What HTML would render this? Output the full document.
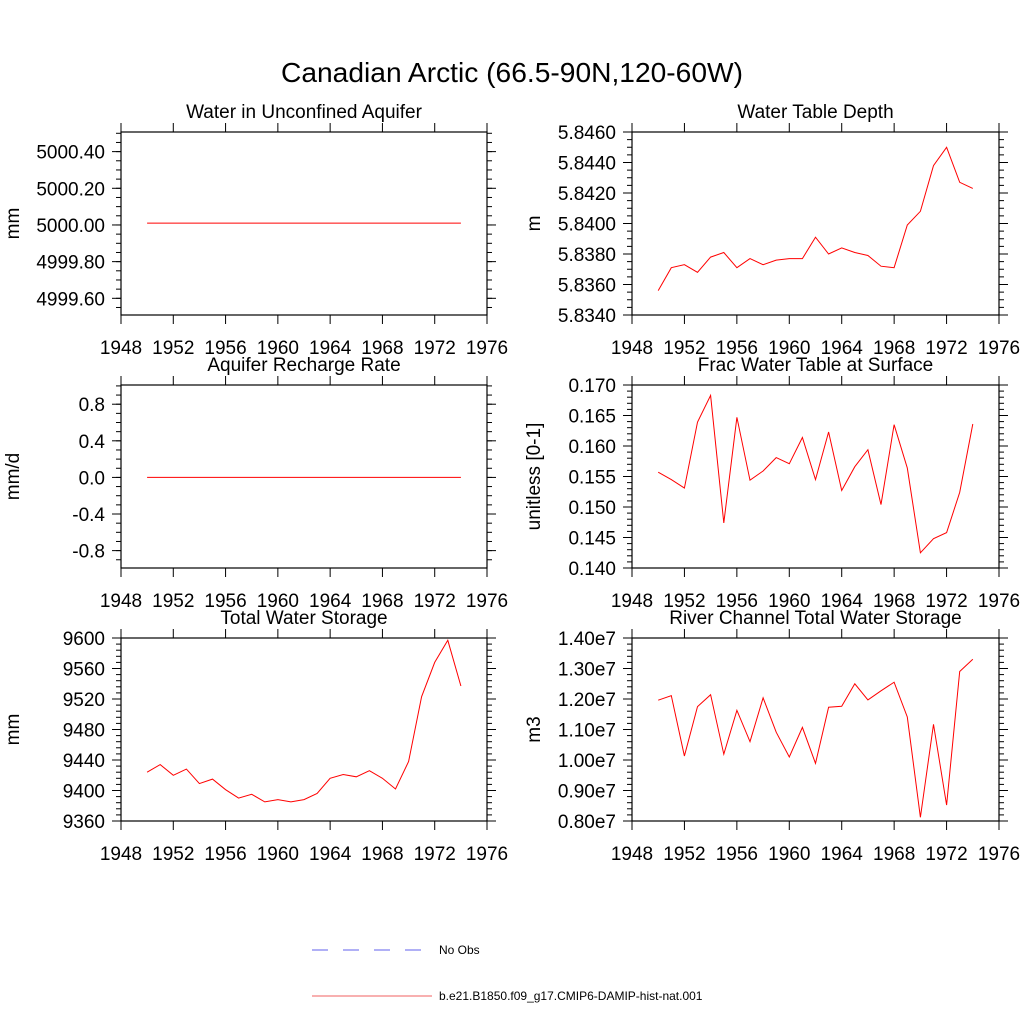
<!DOCTYPE html>
<html><head><meta charset="utf-8"><style>
body{margin:0;background:#fff}
svg{display:block;font-family:"Liberation Sans",Arial,sans-serif}
</style></head><body>
<svg id="fig" width="1024" height="1024" viewBox="0 0 1024 1024">
<text x="512" y="82" font-size="28" text-anchor="middle" textLength="462" lengthAdjust="spacingAndGlyphs">Canadian Arctic (66.5-90N,120-60W)</text>
<g>
<line x1="312" y1="950" x2="435" y2="950" stroke="#6060ee" stroke-width="1" stroke-dasharray="16,15"/>
<text x="439" y="954" font-size="12">No Obs</text>
<line x1="312" y1="996" x2="432" y2="996" stroke="#f06060" stroke-width="1"/>
<text x="439" y="1000" font-size="12">b.e21.B1850.f09_g17.CMIP6-DAMIP-hist-nat.001</text>
</g>
</svg>
<script>
const years=[1950,1951,1952,1953,1954,1955,1956,1957,1958,1959,1960,1961,1962,1963,1964,1965,1966,1967,1968,1969,1970,1971,1972,1973,1974];
const xTicks=[1948,1952,1956,1960,1964,1968,1972,1976];
const aquiferWater=[5000.01,5000.01,5000.01,5000.01,5000.01,5000.01,5000.01,5000.01,5000.01,5000.01,5000.01,5000.01,5000.01,5000.01,5000.01,5000.01,5000.01,5000.01,5000.01,5000.01,5000.01,5000.01,5000.01,5000.01,5000.01];
const aquiferTickVals=[4999.6,4999.8,5000.0,5000.2,5000.4];
const aquiferTicks=["4999.60","4999.80","5000.00","5000.20","5000.40"];
const waterTableDepth=[5.8356,5.8371,5.8373,5.8368,5.8378,5.8381,5.8371,5.8377,5.8373,5.8376,5.8377,5.8377,5.8391,5.8380,5.8384,5.8381,5.8379,5.8372,5.8371,5.8399,5.8408,5.8438,5.8450,5.8427,5.8423];
const wtdTickVals=[5.834,5.836,5.838,5.840,5.842,5.844,5.846];
const wtdTicks=["5.8340","5.8360","5.8380","5.8400","5.8420","5.8440","5.8460"];
const recharge=[0,0,0,0,0,0,0,0,0,0,0,0,0,0,0,0,0,0,0,0,0,0,0,0,0];
const rechargeTickVals=[-0.8,-0.4,0,0.4,0.8];
const rechargeTicks=["-0.8","-0.4","0.0","0.4","0.8"];
const fracSurface=[0.1557,0.1545,0.1531,0.1639,0.1683,0.1474,0.1647,0.1544,0.1559,0.1581,0.1571,0.1614,0.1545,0.1623,0.1527,0.1566,0.1594,0.1504,0.1635,0.1564,0.1425,0.1448,0.1458,0.1524,0.1636];
const fracTickVals=[0.140,0.145,0.150,0.155,0.160,0.165,0.170];
const fracTicks=["0.140","0.145","0.150","0.155","0.160","0.165","0.170"];
const totalStorage=[9424,9434,9420,9428,9409,9415,9401,9390,9395,9385,9388,9385,9388,9396,9416,9421,9418,9426,9416,9402,9438,9523,9568,9597,9537];
const twsTickVals=[9360,9400,9440,9480,9520,9560,9600];
const twsTicks=["9360","9400","9440","9480","9520","9560","9600"];
const riverStorage=[1.196,1.211,1.013,1.175,1.214,1.019,1.163,1.060,1.204,1.091,1.010,1.107,0.989,1.173,1.176,1.250,1.197,1.227,1.255,1.141,0.812,1.117,0.852,1.290,1.330];
const riverTickVals=[0.8,0.9,1.0,1.1,1.2,1.3,1.4];
const riverTicks=["0.80e7","0.90e7","1.00e7","1.10e7","1.20e7","1.30e7","1.40e7"];

const NS="http://www.w3.org/2000/svg";
const svg=document.getElementById('fig');
function mk(tag,attrs,parent){const e=document.createElementNS(NS,tag);for(const k in attrs)e.setAttribute(k,attrs[k]);(parent||svg).appendChild(e);return e;}

const panels=[
 {name:'aquifer-water',title:'Water in Unconfined Aquifer',ylab:'mm',yo:102,x0:121,x1:487,y0:132,y1:315,ymin:4999.509,ymax:5000.507,data:aquiferWater,tv:aquiferTickVals,ticks:aquiferTicks,minor:0.05},
 {name:'water-table-depth',title:'Water Table Depth',ylab:'m',yo:92,x0:632,x1:999,y0:132,y1:315,ymin:5.834,ymax:5.846,data:waterTableDepth,tv:wtdTickVals,ticks:wtdTicks,minor:0.0005},
 {name:'aquifer-recharge',title:'Aquifer Recharge Rate',ylab:'mm/d',yo:102,x0:121,x1:487,y0:385,y1:568,ymin:-0.99,ymax:1.01,data:recharge,tv:rechargeTickVals,ticks:rechargeTicks,minor:0.1},
 {name:'frac-water-table',title:'Frac Water Table at Surface',ylab:'unitless [0-1]',yo:92,x0:632,x1:999,y0:385,y1:568,ymin:0.140,ymax:0.170,data:fracSurface,tv:fracTickVals,ticks:fracTicks,minor:0.001},
 {name:'total-water-storage',title:'Total Water Storage',ylab:'mm',yo:102,x0:121,x1:487,y0:638,y1:821,ymin:9360,ymax:9600,data:totalStorage,tv:twsTickVals,ticks:twsTicks,minor:8},
 {name:'river-channel-storage',title:'River Channel Total Water Storage',ylab:'m3',yo:92,x0:632,x1:999,y0:638,y1:821,ymin:0.8,ymax:1.4,data:riverStorage,tv:riverTickVals,ticks:riverTicks,minor:0.02}
];

panels.forEach(p=>{
 const g=mk('g',{});
 
 
 const xs=v=>p.x0+(v-1948)/(1976-1948)*(p.x1-p.x0);
 const ys=v=>p.y1-(v-p.ymin)/(p.ymax-p.ymin)*(p.y1-p.y0);
 const t=mk('text',{x:(p.x0+p.x1)/2,y:p.y0-14,'font-size':19,'text-anchor':'middle'},g);
 t.textContent=p.title;
 
 
 const yl=mk('text',{x:0,y:0,'font-size':19,'text-anchor':'middle',transform:`translate(${p.x0-p.yo},${(p.y0+p.y1)/2}) rotate(-90)`},g);
 yl.textContent=p.ylab;
 
 
 const start=Math.ceil(p.ymin/p.minor-1e-6);
 for(let k=start;k*p.minor<=p.ymax+1e-9;k++){
  const yy=ys(k*p.minor);
  mk('line',{x1:p.x0-5,x2:p.x0,y1:yy,y2:yy,stroke:'#000','stroke-width':1},g);
  mk('line',{x1:p.x1,x2:p.x1+5,y1:yy,y2:yy,stroke:'#000','stroke-width':1},g);
 }
 p.tv.forEach((val,i)=>{
  const yy=ys(val);
  mk('line',{x1:p.x0-9,x2:p.x0,y1:yy,y2:yy,stroke:'#000','stroke-width':1},g);
  mk('line',{x1:p.x1,x2:p.x1+9,y1:yy,y2:yy,stroke:'#000','stroke-width':1},g);
  const tl=mk('text',{x:p.x0-16,y:yy+7,'font-size':19,'text-anchor':'end'},g);
  tl.textContent=p.ticks[i];
  
  
 });
 xTicks.forEach(v=>{
  const xx=xs(v);
  mk('line',{x1:xx,x2:xx,y1:p.y1,y2:p.y1+9,stroke:'#000','stroke-width':1},g);
  mk('line',{x1:xx,x2:xx,y1:p.y0-9,y2:p.y0,stroke:'#000','stroke-width':1},g);
  const tl=mk('text',{x:xx,y:p.y1+39,'font-size':19,'text-anchor':'middle'},g);
  tl.textContent=v;
  
  
 });
 const box=mk('rect',{x:p.x0,y:p.y0,width:p.x1-p.x0,height:p.y1-p.y0,fill:'none',stroke:'#000','stroke-width':1.2},g);
 
 
 const pts=years.map((yr,i)=>xs(yr).toFixed(1)+','+ys(p.data[i]).toFixed(1)).join(' ');
 const line=mk('polyline',{points:pts,fill:'none',stroke:'#ff0000','stroke-width':1},g);
 
 
});
</script>
</body></html>
